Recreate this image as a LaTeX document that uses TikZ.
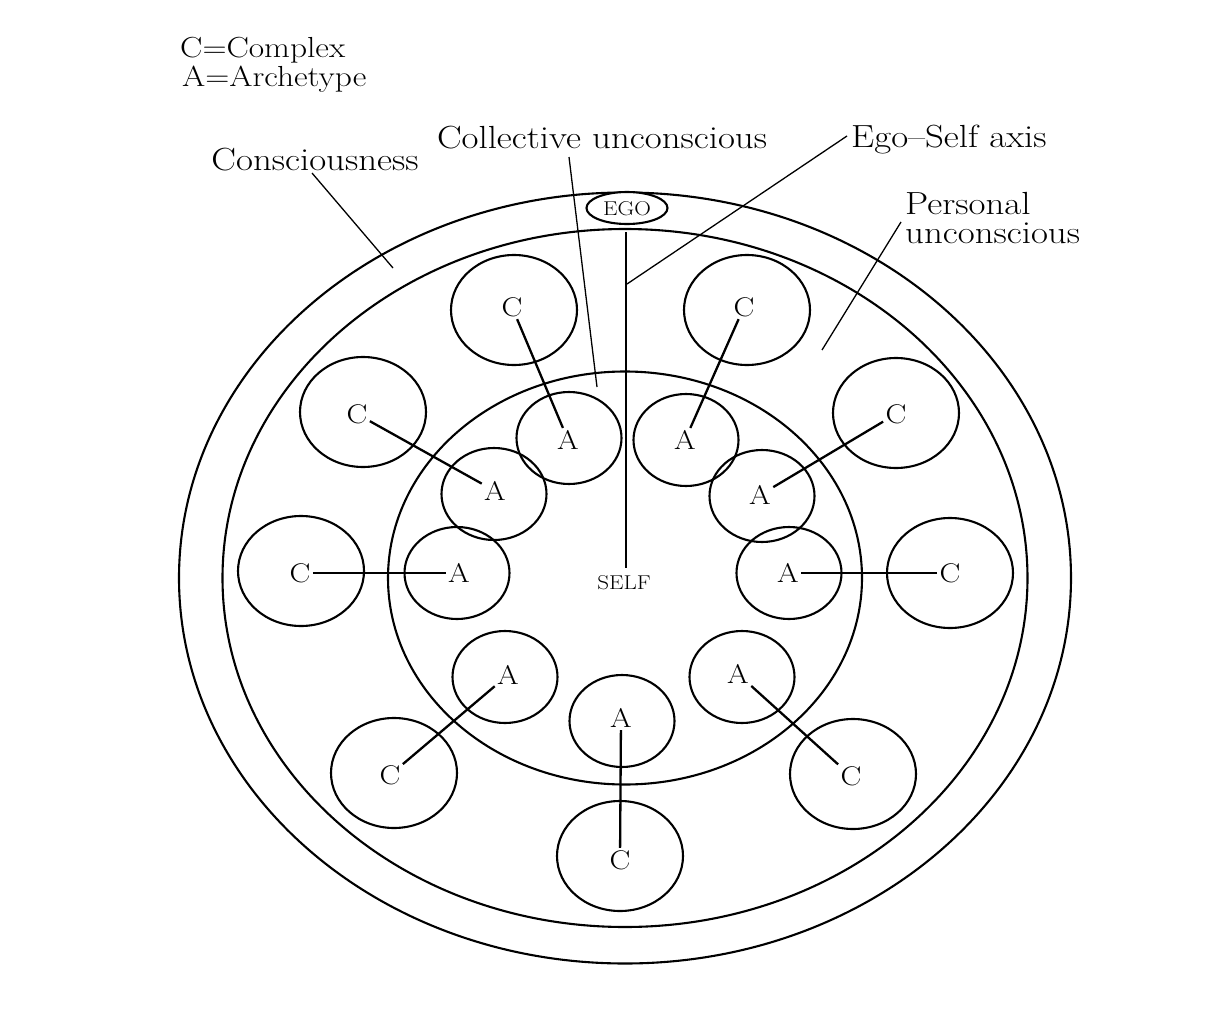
\documentclass[tikz,border=0pt]{standalone}
\usepackage{graphicx}
\newcommand\hx[1]{\scalebox{1.152}[1]{#1}}
\tikzset{
  ring/.style={line width=2.1pt},
  link/.style={line width=2.3pt},
  leader/.style={line width=1.3pt},
  lab/.style={font=\fontsize{32}{36}\selectfont, inner sep=0pt},
  head/.style={font=\fontsize{29}{33}\selectfont, inner sep=0pt, anchor=base west},
  letter/.style={font=\fontsize{27}{30}\selectfont, inner sep=2.5pt, outer sep=0pt},
  small/.style={font=\fontsize{20}{22}\selectfont, inner sep=1pt},
}
\newcommand\cring[5]{% name, text x, text y, circle x, circle y
  \node[letter] (#1) at (#2,#3) {\hx{C}};
  \draw[ring] (#4,#5) ellipse [x radius=63, y radius=55];
}
\newcommand\aring[5]{%
  \node[letter] (#1) at (#2,#3) {\hx{A}};
  \draw[ring] (#4,#5) ellipse [x radius=52.5, y radius=46];
}
\begin{document}
\begin{tikzpicture}[x=1pt,y=-1pt]
\fill[white] (0,0) rectangle (1219,1025);
\useasboundingbox (0,0) rectangle (1219,1025);

% main ellipses
\coordinate (mid) at (625,578);
\draw[ring] (mid) ellipse [x radius=446, y radius=385.5];
\draw[ring] (mid) ellipse [x radius=402.5, y radius=349];
\draw[ring] (mid) ellipse [x radius=237, y radius=206.5];

% ego and self
\draw[ring, fill=white] (627,208) ellipse [x radius=40.5, y radius=16];
\node[small] (ego) at (627,209) {\hx{EGO}};
\node[small] (self) at (624,583) {\hx{SELF}};
\coordinate (axtop) at (626,232);
\coordinate (axbot) at (626,568);
\draw[link] (axtop) -- (axbot);

% complexes
\cring{c1}{512}{307}{514}{310}
\cring{c2}{744}{307}{747}{310}
\cring{c3}{357}{414}{363}{412}
\cring{c4}{896}{414}{896}{413}
\cring{c5}{300}{573}{301}{571}
\cring{c6}{950}{573}{950}{573}
\cring{c7}{390}{775}{394}{773}
\cring{c8}{851}{776}{853}{774}
\cring{c9}{620}{860}{620}{856}
% archetypes
\aring{a1}{568}{440}{569}{438}
\aring{a2}{685}{440}{686}{440}
\aring{a3}{495}{491}{494}{494}
\aring{a4}{760}{495}{762}{496}
\aring{a5}{459}{573}{457}{573}
\aring{a6}{788}{573}{789}{573}
\aring{a7}{508}{675}{505}{677}
\aring{a8}{738}{674}{742}{677}
\aring{a9}{621}{718}{622}{721}

\foreach \i in {1,...,9} {\draw[link] (c\i) -- (a\i);}

% labels
\node[head] (hc) at (180,58) {\hx{C=Complex}};
\node[head] (ha) at (182,87) {\hx{A=Archetype}};
\node[lab, anchor=base] (cons) at (315,170) {\hx{Consciousness}};
\node[lab, anchor=base] (coll) at (602,148) {\hx{Collective unconscious}};
\node[lab, anchor=base west] (axis) at (851,147) {\hx{Ego--Self axis}};
\node[lab, anchor=base west] (pers) at (905,214) {\hx{Personal}};
\node[lab, anchor=base west] (pers2) at (905,243) {\hx{unconscious}};

% leaders
\coordinate (l1a) at (312,173); \coordinate (l1b) at (393,268);
\coordinate (l2a) at (569,157); \coordinate (l2b) at (597,387);
\coordinate (l3a) at (847,136); \coordinate (l3b) at (627,284);
\coordinate (l4a) at (901,222); \coordinate (l4b) at (822,350);
\draw[leader] (l1a) -- (l1b);
\draw[leader] (l2a) -- (l2b);
\draw[leader] (l3a) -- (l3b);
\draw[leader] (l4a) -- (l4b);
\end{tikzpicture}
\end{document}
